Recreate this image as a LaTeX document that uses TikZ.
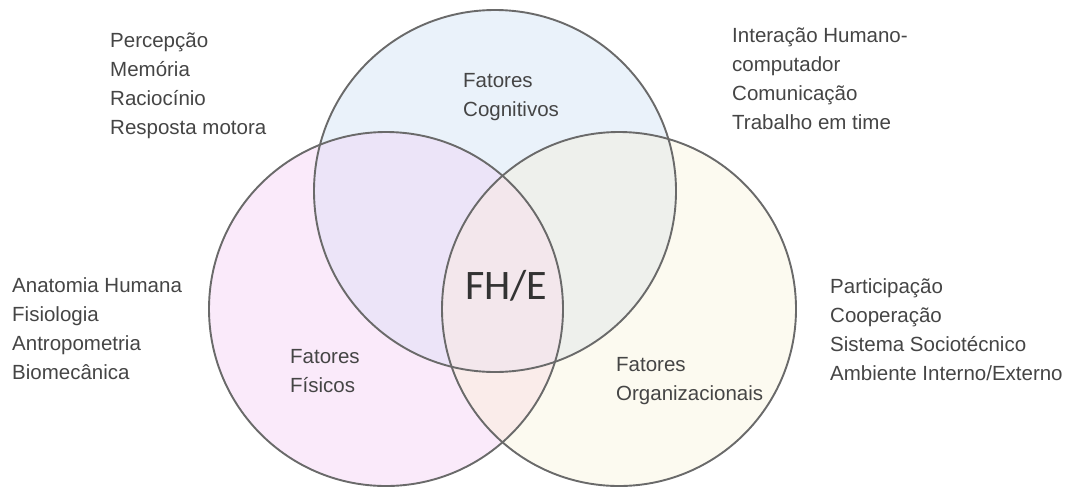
\documentclass[tikz,border=0pt]{standalone}
\usepackage{fontspec}
\setmainfont{Liberation Sans}
\newfontfamily\fhfont{Carlito}
\definecolor{cTop}{HTML}{EAF2FA}
\definecolor{cLeft}{HTML}{FAEAFA}
\definecolor{cRight}{HTML}{FCFAF0}
\definecolor{cTL}{HTML}{ECE4F8}
\definecolor{cTR}{HTML}{EEF0EC}
\definecolor{cLR}{HTML}{FAECEA}
\definecolor{cMid}{HTML}{F3E7EC}
\definecolor{cLine}{HTML}{6A6A6A}
\definecolor{cText}{HTML}{454545}
\begin{document}
\begin{tikzpicture}[x=1pt,y=-1pt,
  lbl/.style={inner sep=0pt,anchor=base west,align=left,text=cText,font=\fontsize{20.5}{29}\selectfont},
  ring/.style={draw=cLine,line width=1.9pt}]
\useasboundingbox (0,0) rectangle (1067,493);
\fill[white] (0,0) rectangle (1067,493);
\def\ctop{(495,191) circle[radius=181]}
\def\cleft{(386,309) circle[radius=177]}
\def\cright{(619,309) circle[radius=177]}
\fill[cTop] \ctop;
\fill[cLeft] \cleft;
\fill[cRight] \cright;
\begin{scope}
  \clip \cleft;
  \fill[cTL] \ctop;
  \fill[cLR] \cright;
\end{scope}
\begin{scope}
  \clip \cright;
  \fill[cTR] \ctop;
\end{scope}
\begin{scope}
  \clip \cleft;
  \clip \cright;
  \fill[cMid] \ctop;
\end{scope}
\draw[ring] \ctop;
\draw[ring] \cleft;
\draw[ring] \cright;

% anchor = baseline of the last line
\node[lbl] (cog) at (463,116) {Fatores\\Cognitivos};
\node[lbl] (fis) at (290,392) {Fatores\\Físicos};
\node[lbl] (org) at (616,400) {Fatores\\Organizacionais};
\node[inner sep=0pt,anchor=base west,text=black!80,font=\fhfont\fontsize{42}{42}\selectfont] (fhe) at (465,299) {FH/E};

\node[lbl] (tl) at (110,134) {Percepção\\Memória\\Raciocínio\\Resposta motora};
\node[lbl] (tr) at (732,129) {Interação Humano-\\computador\\Comunicação\\Trabalho em time};
\node[lbl] (ml) at (12,379) {Anatomia Humana\\Fisiologia\\Antropometria\\Biomecânica};
\node[lbl] (mr) at (830,380) {Participação\\Cooperação\\Sistema Sociotécnico\\Ambiente Interno/Externo};
\end{tikzpicture}
\end{document}
